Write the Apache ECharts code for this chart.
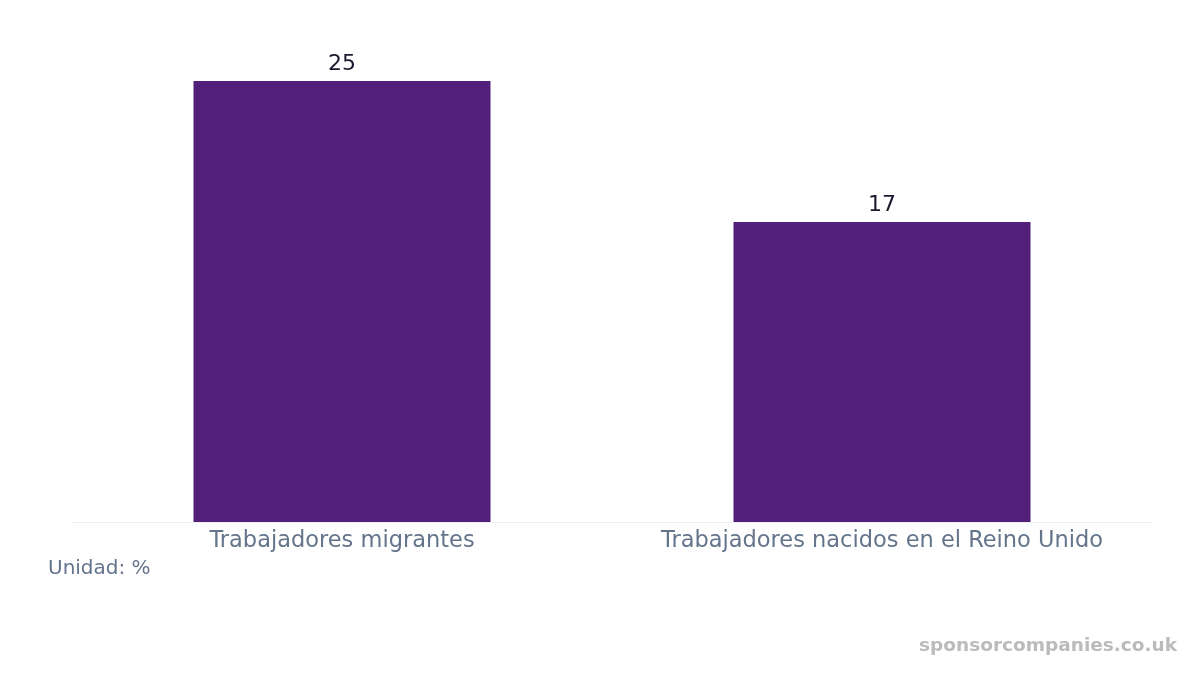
<!DOCTYPE html>
<html><head><meta charset="utf-8">
<script src="https://cdn.jsdelivr.net/npm/echarts@6/dist/echarts.min.js"></script>
<style>html,body{margin:0;padding:0;background:#fff}#c{width:1200px;height:675px}</style>
</head><body><div id="c"></div>
<script>
const categories = ["Trabajadores migrantes", "Trabajadores nacidos en el Reino Unido"];
const values = [25, 17];
const unitText = "Unidad: %";
const watermark = "sponsorcompanies.co.uk";

const chart = echarts.init(document.getElementById('c'), null, {renderer: 'canvas'});
chart.setOption({
  backgroundColor: '#fff',
  animation: false,
  textStyle: {fontFamily: 'DejaVu Sans'},
  grid: {left: 72, right: 48, top: 81, bottom: 153},
  xAxis: {
    type: 'category', data: categories,
    axisLine: {show: true, lineStyle: {color: '#eeeeee', width: 1}},
    axisTick: {show: false},
    axisLabel: {interval: 0, hideOverlap: false, color: '#64748b', fontSize: 22.5, margin: 8, fontFamily: 'DejaVu Sans'}
  },
  yAxis: {type: 'value', min: 0, max: 25, show: false, splitLine: {show: false}},
  series: [{
    type: 'bar', data: values, barWidth: '55%',
    itemStyle: {color: '#52207a'},
    label: {show: true, position: 'top', color: '#1a1a2e', fontSize: 22, distance: 6, fontFamily: 'DejaVu Sans'}
  }],
  graphic: [
    {type: 'text', left: 48, top: 559, style: {text: unitText, fill: '#64748b', font: '20px "DejaVu Sans"'}},
    {type: 'text', right: 23, top: 637, style: {text: watermark, fill: '#bbbbbb', font: 'bold 18.5px "DejaVu Sans"'}}
  ]
});
</script></body></html>
